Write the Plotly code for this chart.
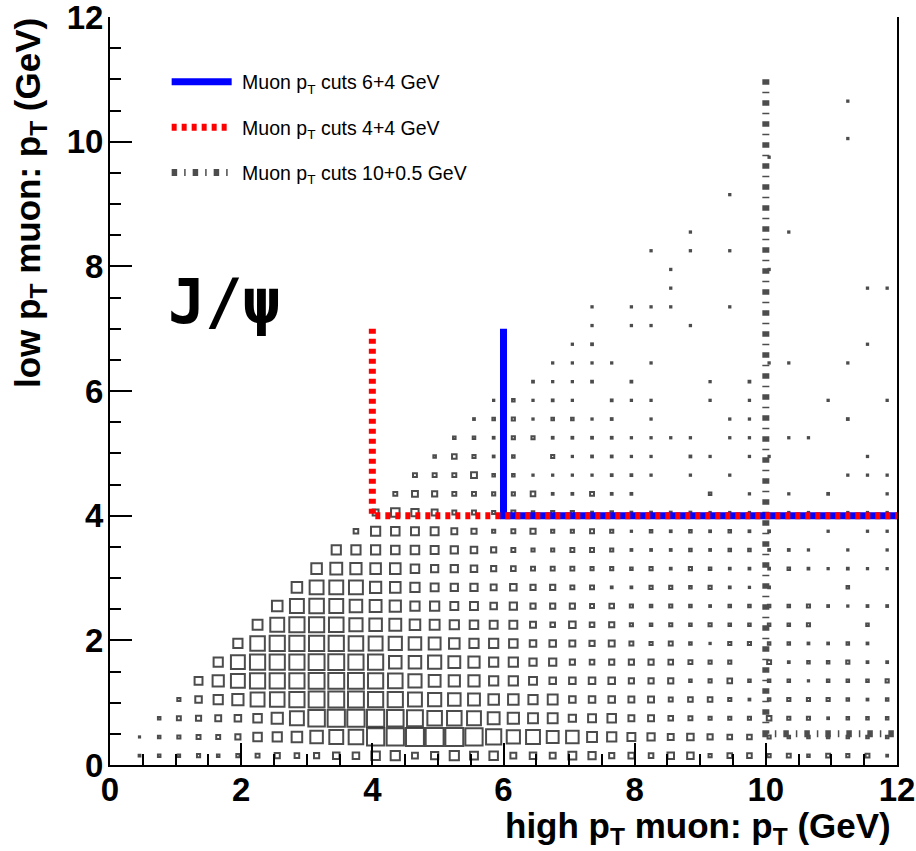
import numpy as np
import plotly.graph_objects as go

# ---------------- data ----------------
# 2D histogram: high-pT muon pT (x) vs low-pT muon pT (y), 40 x 40 bins of 0.3 GeV
x_min, x_max, n_bins_x = 0.0, 12.0, 40
y_min, y_max, n_bins_y = 0.0, 12.0, 40

# bin contents, one list per low-pT row (index 0 = 0-0.3 GeV), columns = high-pT bins
counts_dense = [
    [0, 6, 10, 10, 14, 10, 14, 20, 32, 26, 32, 48, 48, 78, 90, 40, 58, 90, 68, 78, 40, 48, 40, 68, 58, 32, 40, 26, 48, 48, 14, 26, 26, 14, 20, 10, 20, 14, 20, 6],
    [0, 3, 10, 14, 20, 20, 32, 78, 90, 116, 160, 194, 212, 292, 292, 314, 314, 314, 292, 230, 176, 194, 144, 160, 102, 90, 68, 58, 40, 48, 32, 26, 26, 14, 10, 10, 10, 10, 10, 10],
    [0, 0, 10, 20, 32, 40, 48, 78, 130, 194, 270, 292, 292, 292, 270, 250, 212, 212, 194, 144, 130, 102, 102, 58, 68, 78, 40, 40, 26, 20, 14, 14, 14, 26, 14, 14, 6, 10, 10, 10],
    [0, 0, 0, 14, 48, 90, 130, 194, 212, 230, 250, 250, 250, 230, 230, 194, 176, 160, 144, 116, 116, 90, 102, 48, 48, 48, 40, 40, 20, 26, 26, 14, 6, 10, 14, 14, 14, 10, 6, 10],
    [0, 0, 0, 0, 68, 130, 194, 230, 230, 230, 250, 250, 250, 230, 212, 176, 144, 130, 130, 90, 90, 68, 48, 48, 48, 48, 32, 32, 32, 10, 14, 26, 10, 10, 10, 4, 10, 10, 10, 14],
    [0, 0, 0, 0, 0, 90, 194, 230, 230, 230, 250, 250, 230, 230, 160, 160, 176, 144, 130, 90, 90, 58, 58, 32, 26, 32, 32, 32, 26, 20, 14, 14, 0, 20, 6, 10, 10, 14, 6, 6],
    [0, 0, 0, 0, 0, 0, 90, 212, 230, 230, 230, 230, 212, 194, 176, 160, 144, 116, 90, 90, 78, 48, 48, 40, 32, 40, 20, 14, 20, 10, 4, 14, 14, 10, 10, 6, 6, 10, 6, 0],
    [0, 0, 0, 0, 0, 0, 0, 102, 194, 230, 230, 212, 176, 160, 144, 116, 102, 90, 78, 68, 68, 40, 26, 48, 26, 32, 14, 10, 14, 10, 14, 10, 10, 10, 10, 14, 0, 0, 10, 0],
    [0, 0, 0, 0, 0, 0, 0, 0, 116, 194, 212, 194, 160, 144, 130, 90, 90, 68, 68, 48, 58, 32, 32, 32, 20, 26, 14, 10, 14, 10, 6, 10, 10, 10, 10, 14, 6, 4, 6, 6],
    [0, 0, 0, 0, 0, 0, 0, 0, 0, 116, 194, 194, 194, 130, 116, 90, 68, 58, 58, 40, 48, 32, 32, 20, 20, 6, 6, 14, 14, 10, 14, 6, 4, 6, 0, 0, 0, 10, 0, 0],
    [0, 0, 0, 0, 0, 0, 0, 0, 0, 0, 116, 144, 130, 116, 116, 78, 58, 58, 48, 32, 26, 20, 20, 20, 14, 14, 10, 14, 6, 14, 10, 6, 6, 6, 10, 6, 4, 6, 4, 4],
    [0, 0, 0, 0, 0, 0, 0, 0, 0, 0, 0, 90, 90, 90, 78, 78, 68, 58, 48, 32, 20, 14, 14, 20, 20, 14, 6, 6, 6, 10, 6, 10, 10, 6, 6, 4, 0, 4, 0, 4],
    [0, 0, 0, 0, 0, 0, 0, 0, 0, 0, 0, 0, 26, 90, 78, 68, 68, 40, 32, 14, 20, 32, 14, 14, 20, 14, 4, 10, 6, 10, 6, 10, 6, 6, 0, 0, 4, 0, 4, 4],
    [0, 0, 0, 0, 0, 0, 0, 0, 0, 0, 0, 0, 0, 40, 78, 58, 40, 20, 20, 14, 20, 10, 14, 14, 6, 10, 6, 6, 6, 6, 4, 4, 4, 0, 4, 4, 0, 4, 4, 4],
    [0, 0, 0, 0, 0, 0, 0, 0, 0, 0, 0, 0, 0, 0, 20, 40, 32, 20, 20, 14, 14, 26, 6, 6, 20, 6, 6, 0, 0, 0, 10, 0, 4, 0, 4, 0, 6, 0, 0, 4],
    [0, 0, 0, 0, 0, 0, 0, 0, 0, 0, 0, 0, 0, 0, 0, 20, 20, 20, 40, 10, 10, 4, 4, 4, 4, 6, 6, 4, 0, 4, 0, 4, 0, 0, 0, 0, 0, 4, 4, 4],
    [0, 0, 0, 0, 0, 0, 0, 0, 0, 0, 0, 0, 0, 0, 0, 0, 10, 26, 14, 6, 10, 0, 14, 4, 6, 6, 4, 4, 0, 6, 4, 0, 4, 4, 0, 0, 0, 0, 4, 0],
    [0, 0, 0, 0, 0, 0, 0, 0, 0, 0, 0, 0, 0, 0, 0, 0, 0, 10, 10, 6, 14, 14, 6, 6, 6, 6, 4, 4, 4, 4, 0, 4, 4, 0, 4, 4, 0, 0, 0, 0],
    [0, 0, 0, 0, 0, 0, 0, 0, 0, 0, 0, 0, 0, 0, 0, 0, 0, 0, 6, 10, 14, 4, 10, 10, 4, 6, 0, 4, 0, 0, 0, 4, 4, 0, 0, 0, 0, 6, 0, 0],
    [0, 0, 0, 0, 0, 0, 0, 0, 0, 0, 0, 0, 0, 0, 0, 0, 0, 0, 0, 4, 10, 4, 6, 4, 0, 6, 4, 4, 0, 0, 4, 0, 4, 0, 0, 0, 4, 0, 0, 4],
    [0, 0, 0, 0, 0, 0, 0, 0, 0, 0, 0, 0, 0, 0, 0, 0, 0, 0, 0, 0, 0, 6, 4, 4, 6, 0, 6, 0, 0, 0, 4, 0, 6, 0, 0, 0, 0, 0, 0, 0],
]

# sparse tail above ~6.3 GeV: (low-pT bin, high-pT bin, content)
counts_sparse = [
    (21, 22, 4), (21, 23, 4), (21, 24, 4), (21, 25, 4), (21, 27, 4), (21, 33, 4), (21, 34, 4), (21, 37, 4),
    (22, 23, 4), (22, 24, 6), (22, 38, 4),
    (23, 24, 4), (23, 26, 4), (23, 27, 4), (23, 29, 4),
    (24, 24, 4), (24, 26, 4), (24, 27, 4), (24, 28, 4), (24, 31, 4),
    (25, 28, 4), (25, 38, 4), (25, 39, 4),
    (26, 28, 4), (26, 33, 4),
    (27, 27, 4), (27, 29, 4), (27, 31, 4),
    (28, 29, 4), (28, 34, 4),
    (30, 31, 4),
    (32, 33, 4),
    (33, 37, 4),
    (35, 37, 4),
]

# trigger cut lines (high pT threshold, low pT threshold)
cut_6p4_x = [6, 6, 12]
cut_6p4_y = [7, 4, 4]
cut_4p4_x = [4, 4, 12]
cut_4p4_y = [7, 4, 4]
cut_10p05_x = [10, 10, 12]
cut_10p05_y = [11, 0.5, 0.5]

legend_names = [
    "\u00a0Muon p<sub>T</sub> cuts 6+4 GeV",
    "\u00a0Muon p<sub>T</sub> cuts 4+4 GeV",
    "\u00a0Muon p<sub>T</sub> cuts 10+0.5 GeV",
]
x_tick_vals = [0, 2, 4, 6, 8, 10, 12]
y_tick_vals = [0, 2, 4, 6, 8, 10, 12]

# ---------------- layout geometry ----------------
W, H = 916, 851
ML, MR, MT, MB = 110, 19, 17, 86
plot_w = W - ML - MR
plot_h = H - MT - MB

grid = np.zeros((n_bins_y, n_bins_x))
for r, row in enumerate(counts_dense):
    grid[r, :len(row)] = row
for r, c, v in counts_sparse:
    grid[r, c] = v

bw_x = (x_max - x_min) / n_bins_x
bw_y = (y_max - y_min) / n_bins_y
xc = x_min + (np.arange(n_bins_x) + 0.5) * bw_x
yc = y_min + (np.arange(n_bins_y) + 0.5) * bw_y

bin_px = min(bw_x * plot_w / (x_max - x_min), bw_y * plot_h / (y_max - y_min))
vmax = grid.max()
LW = 2.0
rr, cc = np.nonzero(grid)
vals = grid[rr, cc]
side = bin_px * np.sqrt(vals / vmax)
msize = np.maximum(side - 0.8, 1.2)

fig = go.Figure()
fig.add_trace(go.Scatter(
    x=xc[cc], y=yc[rr], mode="markers",
    marker=dict(symbol="square-open", size=msize, color="#000000", line=dict(width=LW, color="#000000")),
    showlegend=False, hoverinfo="skip",
))

fig.add_trace(go.Scatter(
    x=cut_10p05_x, y=cut_10p05_y, mode="lines", name=legend_names[2],
    line=dict(color="#4d4d4d", width=7, dash="5.5px,7px,1.5px,7px"), legendrank=3, legendgroup="c",
))
fig.add_trace(go.Scatter(
    x=cut_6p4_x, y=cut_6p4_y, mode="lines", name=legend_names[0],
    line=dict(color="#0000ff", width=7), legendrank=1, legendgroup="a",
))
fig.add_trace(go.Scatter(
    x=cut_4p4_x, y=cut_4p4_y, mode="lines", name=legend_names[1],
    line=dict(color="#ff0000", width=7, dash="5px,5px"), legendrank=2, legendgroup="b",
))

tickfont = dict(family="Liberation Sans", size=33, color="black", weight="bold")
axis_common = dict(
    showgrid=False, zeroline=False, showline=True, linewidth=2, linecolor="black",
    ticks="inside", ticklen=22, tickwidth=1.5, tickcolor="black", tickfont=tickfont,
    ticklabeloverflow="allow",
    minor=dict(dtick=0.5, ticks="inside", ticklen=11, tickwidth=1.5, tickcolor="black"),
)
fig.update_layout(
    width=W, height=H, margin=dict(l=ML, r=MR, t=MT, b=MB, autoexpand=False),
    paper_bgcolor="white", plot_bgcolor="white",
    xaxis=dict(range=[x_min, x_max], tickmode="array", tickvals=x_tick_vals, ticklabelstandoff=-6, **axis_common),
    yaxis=dict(range=[y_min, y_max], tickmode="array", tickvals=y_tick_vals, mirror=True, ticklabelstandoff=-2, **axis_common),
    legend=dict(x=0.072, y=0.939, xanchor="left", yanchor="top", bgcolor="rgba(0,0,0,0)",
                font=dict(family="Liberation Sans", size=19.5, color="black"),
                itemwidth=60, tracegroupgap=17, traceorder="grouped"),
    annotations=[
        dict(text="high p<sub>T</sub> muon: p<sub>T</sub> (GeV)", xref="paper", yref="paper",
             x=1, y=-(828 - (H - MB)) / plot_h, xanchor="right", yanchor="middle", borderpad=0,
             xshift=-5, showarrow=False, font=dict(family="Liberation Sans", size=35, color="black", weight="bold")),
        dict(text="low p<sub>T</sub> muon: p<sub>T</sub> (GeV)", xref="paper", yref="paper",
             x=(30 - ML) / plot_w, y=1, xanchor="center", yanchor="top", textangle=-90, borderpad=0,
             showarrow=False, font=dict(family="Liberation Sans", size=35, color="black", weight="bold")),
        dict(text="J/\u03c8", xref="paper", yref="paper", x=(224 - ML) / plot_w, y=(H - MB - 301) / plot_h,
             xanchor="center", yanchor="middle", showarrow=False,
             font=dict(family="DejaVu Sans Mono", size=62, color="black", weight="bold")),
    ],
)

fig.write_html("out.html")
